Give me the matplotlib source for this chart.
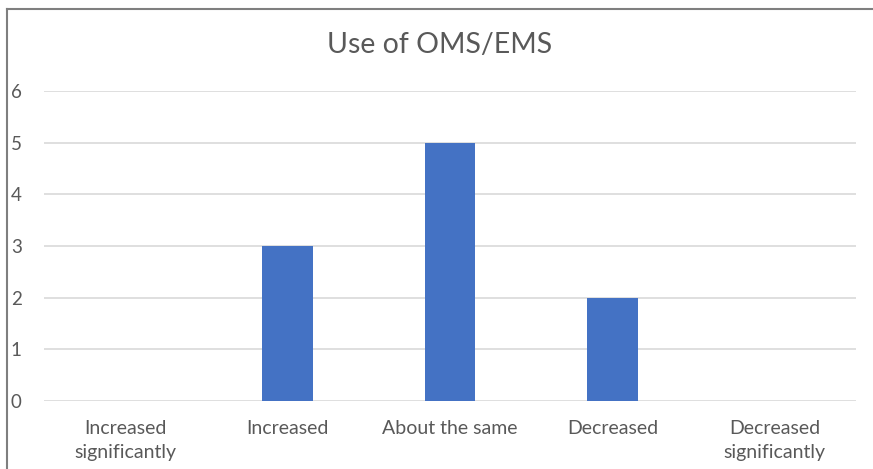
import numpy as np
import matplotlib
matplotlib.use("Agg")
from matplotlib import pyplot as plt
from matplotlib.lines import Line2D

categories = ["Increased\nsignificantly", "Increased", "About the same", "Decreased", "Decreased\nsignificantly"]
counts = [0, 3, 5, 2, 0]
yticks = [0, 1, 2, 3, 4, 5, 6]

plt.rcParams['font.family'] = ['Lato', 'DejaVu Sans']

fig = plt.figure(figsize=(8.73, 4.69), dpi=100)
ax = fig.add_axes([44/873, 68/469, 812/873, 310/469])

x = np.arange(len(categories))
ax.bar(x, counts, width=0.31, color='#4472C4', zorder=3)

ax.set_xlim(-0.5, len(categories) - 0.5)
ax.set_ylim(0, 6)
ax.set_yticks(yticks)
ax.set_xticks(x)
ax.set_xticklabels(categories, fontsize=14, linespacing=1.45)
ax.yaxis.grid(True, color='#D9D9D9', linewidth=1.2, zorder=0)
for s in ax.spines.values():
    s.set_visible(False)
ax.tick_params(axis='both', length=0, labelcolor='#595959')
ax.tick_params(axis='y', pad=16, labelsize=13.5)
ax.tick_params(axis='x', pad=14)
for lbl in ax.get_yticklabels():
    lbl.set_horizontalalignment('right')

fig.text(440/873, 1 - 45/469, "Use of OMS/EMS", ha='center', va='center',
         fontsize=20.5, color='#595959')

# outer chart border (cropped on right and bottom)
fig.add_artist(Line2D([6.5/873, 1], [1 - 9.5/469, 1 - 9.5/469], color='#7F7F7F', linewidth=1.5))
fig.add_artist(Line2D([6.5/873, 6.5/873], [0, 1 - 9.5/469], color='#7F7F7F', linewidth=1.5))

fig.savefig("out.png", dpi=100)
